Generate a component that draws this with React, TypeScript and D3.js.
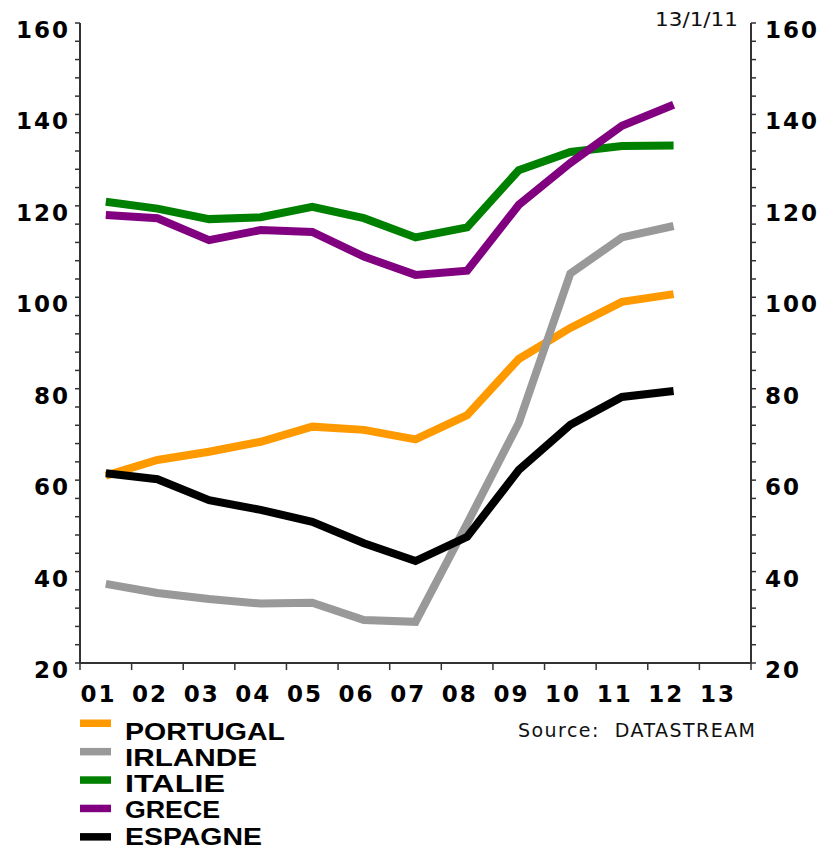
import React from "react";
import * as d3 from "d3";

const years = ["01", "02", "03", "04", "05", "06", "07", "08", "09", "10", "11", "12", "13"];
const portugal = [61.0, 64.4, 66.2, 68.4, 71.7, 71.0, 68.9, 74.2, 86.5, 93.3, 99.0, 100.7];
const irlande = [37.3, 35.3, 34.0, 33.0, 33.2, 29.4, 29.0, 50.5, 72.5, 105.2, 113.1, 115.6];
const italie = [120.9, 119.4, 117.1, 117.5, 119.8, 117.3, 113.1, 115.3, 127.8, 131.8, 133.1, 133.2];
const grece = [118.0, 117.3, 112.5, 114.7, 114.3, 108.9, 104.9, 105.8, 120.2, 129.4, 137.5, 142.1];
const espagne = [61.5, 60.2, 55.6, 53.5, 50.9, 46.2, 42.3, 47.6, 62.2, 72.1, 78.2, 79.5];
const yTicks = [20, 40, 60, 80, 100, 120, 140, 160];
const seriesNames = ["PORTUGAL", "IRLANDE", "ITALIE", "GRECE", "ESPAGNE"];
const seriesColors = ["#FF9900", "#999999", "#008000", "#800080", "#000000"];
const seriesData = [portugal, irlande, italie, grece, espagne];
const legendWidths = [160, 132, 100, 95, 137];
const dateLabel = "13/1/11";
const sourceLabel = "Source:  DATASTREAM";

const W = 821;
const H = 848;
const left = 80;
const right = 751;
const top = 23;
const bottom = 663;

export default function App() {
  const x = d3.scaleLinear().domain([0, years.length]).range([left, right]);
  const y = d3.scaleLinear().domain([20, 160]).range([bottom, top]);
  const minor = d3.range(20, 160.01, 4);
  const line = d3
    .line<number>()
    .x((_, i) => x(i + 0.5))
    .y((d) => y(d));
  const axisColor = "#333";
  const boldFont = "'DejaVu Sans', Verdana, sans-serif";

  return (
    <svg
      width={W}
      height={H}
      style={{ position: "absolute", left: 0, top: 0, background: "#fff" }}
    >
      {/* left axis */}
      <line x1={left} x2={left} y1={top} y2={bottom} stroke={axisColor} strokeWidth={2} />
      {minor.map((v) => (
        <line key={"l" + v} x1={left - 5} x2={left} y1={y(v)} y2={y(v)} stroke={axisColor} strokeWidth={1.5} />
      ))}
      {/* right axis */}
      <line x1={right} x2={right} y1={top} y2={bottom} stroke={axisColor} strokeWidth={2} />
      {minor.map((v) => (
        <line key={"r" + v} x1={right} x2={right + 5} y1={y(v)} y2={y(v)} stroke={axisColor} strokeWidth={1.5} />
      ))}
      {/* x axis */}
      <line x1={left} x2={right} y1={bottom} y2={bottom} stroke={axisColor} strokeWidth={2} />
      {d3.range(0, years.length + 1).map((i) => (
        <line key={"x" + i} x1={x(i)} x2={x(i)} y1={bottom} y2={bottom + 7} stroke={axisColor} strokeWidth={1.5} />
      ))}
      {years.map((yr, i) => (
        <text
          key={yr}
          x={x(i) + 0.5}
          y={bottom + 39}
          fontFamily={boldFont}
          fontWeight="bold"
          fontSize={23}
          letterSpacing={2}
          fill="#000"
        >
          {yr}
        </text>
      ))}
      {yTicks.map((v) => (
        <g key={"yt" + v}>
          <text
            x={left - 10}
            y={y(v) + 15}
            textAnchor="end"
            fontFamily={boldFont}
            fontWeight="bold"
            fontSize={23}
            letterSpacing={2}
            fill="#000"
          >
            {v}
          </text>
          <text
            x={right + 14}
            y={y(v) + 15}
            fontFamily={boldFont}
            fontWeight="bold"
            fontSize={23}
            letterSpacing={2}
            fill="#000"
          >
            {v}
          </text>
        </g>
      ))}
      {/* series */}
      {seriesData.map((d, k) => (
        <path
          key={seriesNames[k]}
          d={line(d) || ""}
          fill="none"
          stroke={seriesColors[k]}
          strokeWidth={8}
          strokeLinejoin="miter"
          strokeLinecap="butt"
        />
      ))}
      {/* date */}
      <text
        x={655}
        y={26}
        fontFamily={boldFont}
        fontSize={19}
        fill="#111"
        textLength={83}
        lengthAdjust="spacingAndGlyphs"
      >
        {dateLabel}
      </text>
      {/* source */}
      <text
        x={518}
        y={737}
        fontFamily={boldFont}
        fontSize={19}
        fill="#111"
        textLength={237}
        lengthAdjust="spacing"
        style={{ whiteSpace: "pre" }}
      >
        {sourceLabel}
      </text>
      {/* legend */}
      {seriesNames.map((name, k) => (
        <g key={"lg" + name}>
          <rect x={80} y={719.5 + k * 28.4} width={31} height={7.5} fill={seriesColors[k]} />
          <text
            x={125}
            y={739.5 + k * 26.3}
            fontFamily="'Liberation Sans', Arial, sans-serif"
            fontWeight="bold"
            fontSize={23}
            textLength={legendWidths[k]}
            lengthAdjust="spacingAndGlyphs"
            fill="#000"
          >
            {name}
          </text>
        </g>
      ))}
    </svg>
  );
}
